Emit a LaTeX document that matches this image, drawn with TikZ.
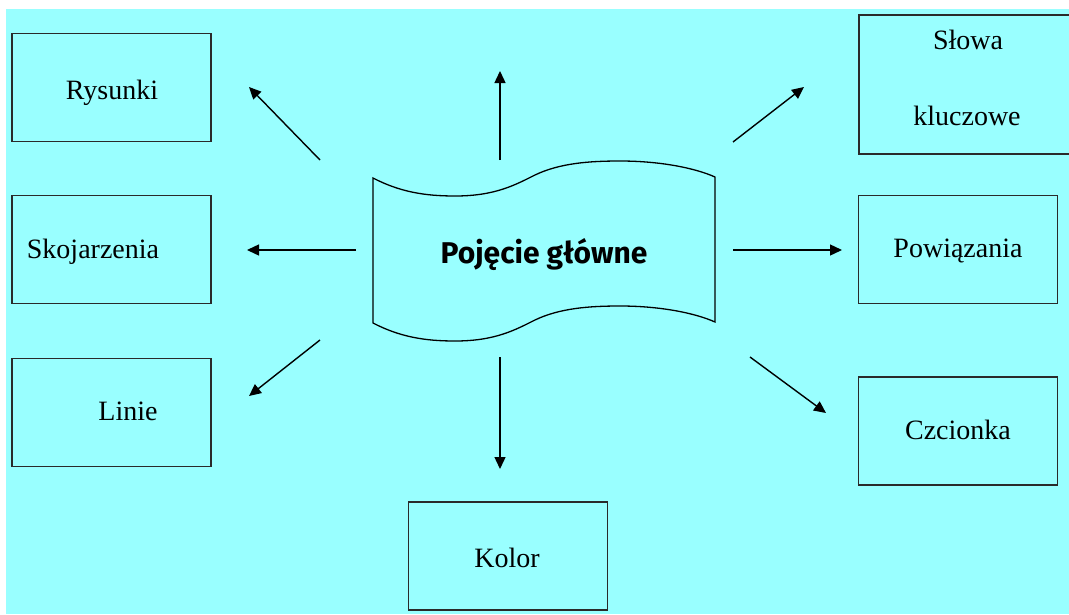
\documentclass[tikz,border=0pt]{standalone}
\usepackage{fontspec}
\setmainfont{Liberation Serif}
\newfontfamily\mainfontb{Fira Sans}
\usetikzlibrary{arrows.meta}
\definecolor{bgcyan}{HTML}{99FFFF}
\definecolor{boxline}{HTML}{2A2A2A}
\tikzset{
  box/.style={draw=boxline, line width=1.8pt, fill=none, minimum width=199pt, minimum height=108pt, inner sep=0pt},
  txt/.style={inner sep=0pt, anchor=base, font=\fontsize{28}{33}\selectfont, text=black},
  arr/.style={draw=black, line width=1.4pt, -{Triangle[length=12pt,width=11pt]}},
}
\begin{document}
\begin{tikzpicture}[x=1pt,y=-1pt]
\useasboundingbox (0,0) rectangle (1069,614);
\fill[white] (0,0) rectangle (1069,614);
\fill[bgcyan] (6,9) rectangle (1069,614);
% boxes
\node[box] (rys) at (111.5,87.5) {};
\node[box] (skoj) at (111.5,249.5) {};
\node[box] (lin) at (111.5,412.5) {};
\node[box, minimum width=230pt, minimum height=139pt] (slowa) at (974,84.5) {};
\node[box] (pow) at (958,249.5) {};
\node[box] (czc) at (958,431) {};
\node[box] (kol) at (508,556) {};
% texts
\node[txt] (rys-t) at (112,99) {Rysunki};
\node[txt] (skoj-t) at (93,258) {Skojarzenia};
\node[txt] (lin-t) at (128,420) {Linie};
\node[txt] (slowa-t1) at (968,49) {Słowa};
\node[txt] (slowa-t2) at (967,125) {kluczowe};
\node[txt] (pow-t) at (958,257) {Powiązania};
\node[txt] (czc-t) at (958,439) {Czcionka};
\node[txt] (kol-t) at (507,567) {Kolor};
% central wave
\draw[black, line width=1.3pt] (373,178)
  .. controls (400,192) and (425,196) .. (455,196)
  .. controls (495,196) and (515,185) .. (535,175)
  .. controls (560,163) and (590,161) .. (620,161)
  .. controls (660,161) and (695,168) .. (715,177)
  -- (715,322)
  .. controls (695,313) and (660,306) .. (620,306)
  .. controls (590,306) and (560,308) .. (535,320)
  .. controls (515,330) and (495,341) .. (455,341)
  .. controls (425,341) and (400,337) .. (373,323)
  -- cycle;
\node[inner sep=0pt, anchor=base, font=\mainfontb\bfseries\fontsize{30}{36}\selectfont] (main) at (544,263) {Pojęcie główne};
% arrow coordinates
\coordinate (a-up-s) at (500,160);
\coordinate (a-up-e) at (500,71);
\coordinate (a-rys-s) at (320,160);
\coordinate (a-rys-e) at (249,87);
\coordinate (a-skoj-s) at (356,250);
\coordinate (a-skoj-e) at (247,250);
\coordinate (a-lin-s) at (320,340);
\coordinate (a-lin-e) at (249,396);
\coordinate (a-kol-s) at (500,357);
\coordinate (a-kol-e) at (500,469);
\coordinate (a-slowa-s) at (733,142);
\coordinate (a-slowa-e) at (804,87);
\coordinate (a-pow-s) at (733,250);
\coordinate (a-pow-e) at (842,250);
\coordinate (a-czc-s) at (750,357);
\coordinate (a-czc-e) at (826,413);
\draw[arr] (a-up-s) -- (a-up-e);
\draw[arr] (a-rys-s) -- (a-rys-e);
\draw[arr] (a-skoj-s) -- (a-skoj-e);
\draw[arr] (a-lin-s) -- (a-lin-e);
\draw[arr] (a-kol-s) -- (a-kol-e);
\draw[arr] (a-slowa-s) -- (a-slowa-e);
\draw[arr] (a-pow-s) -- (a-pow-e);
\draw[arr] (a-czc-s) -- (a-czc-e);
\end{tikzpicture}
\end{document}
